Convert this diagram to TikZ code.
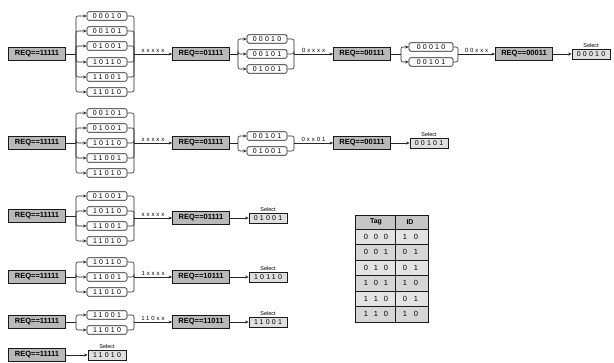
\documentclass[tikz,border=0pt]{standalone}
\usepackage{fontspec}
\setmainfont{Liberation Sans}
\newfontfamily\bitsfont[LetterSpace=32]{Liberation Sans}
\usetikzlibrary{arrows.meta}
\begin{document}
\begin{tikzpicture}[x=1pt,y=-1pt,
  ln/.style={line width=0.6pt,draw=black!85},
  arr/.style={ln,-{Stealth[length=3.5pt,width=3pt]}},
  req/.style={draw=black!90,line width=0.8pt,fill=gray!55,minimum width=57pt,minimum height=13pt,inner sep=0pt,font=\bfseries\fontsize{7.5}{8}\selectfont},
  sub/.style={draw=black!90,line width=0.7pt,rounded corners=1.5pt,fill=white,minimum width=40pt,minimum height=8.5pt,inner sep=0pt,font=\bitsfont\fontsize{7}{7}\selectfont},
  sel/.style={draw=black!90,line width=0.7pt,fill=gray!25,minimum width=38pt,minimum height=10pt,inner sep=0pt,font=\bitsfont\fontsize{7}{7}\selectfont},
  seltxt/.style={font=\fontsize{5.5}{6}\selectfont,inner sep=0.5pt,anchor=south},
  lab/.style={above,font=\bitsfont\fontsize{6}{7}\selectfont,inner sep=1.5pt},
  tcell/.style={font=\fontsize{7.5}{8}\selectfont,inner sep=0pt},
  bus/.style={arr,rounded corners=2pt},
  rbus/.style={ln,rounded corners=2pt}]
\useasboundingbox (0,0) rectangle (614,363);

% ---------------- Row 1 ----------------
\node[req] (r1a) at (37,54) {REQ==11111};
\node[sub] (r1s1) at (107,16) {00010};
\node[sub] (r1s2) at (107,31) {00101};
\node[sub] (r1s3) at (107,46) {01001};
\node[sub] (r1s4) at (107,62) {10110};
\node[sub] (r1s5) at (107,77) {11001};
\node[sub] (r1s6) at (107,92) {11010};
\coordinate (r1L) at (76,54);
\coordinate (r1R) at (134,54);
\node[req] (r1b) at (201,54) {REQ==01111};
\node[sub] (r1t1) at (267,39) {00010};
\node[sub] (r1t2) at (267,54) {00101};
\node[sub] (r1t3) at (267,69) {01001};
\coordinate (r1L2) at (238,54);
\coordinate (r1R2) at (294,54);
\node[req] (r1c) at (362,54) {REQ==00111};
\node[sub,minimum width=44pt] (r1u1) at (431,47) {00010};
\node[sub,minimum width=44pt] (r1u2) at (431,62) {00101};
\coordinate (r1L3) at (401,54);
\coordinate (r1R3) at (458,54);
\node[req] (r1d) at (524,54) {REQ==00011};
\node[sel] (r1sel) at (591,54) {00010};
\node[seltxt] (r1st) at (r1sel.north) {Select};

\draw[ln] (r1a.east) -- (r1L);
\foreach \n in {r1s1,r1s2,r1s3,r1s4,r1s5,r1s6} {
  \draw[bus] (r1L) |- (\n.west);
  \draw[rbus] (\n.east) -| (r1R);
}
\draw[arr] (r1R) -- node[lab] {xxxxx} (r1b.west);
\draw[ln] (r1b.east) -- (r1L2);
\foreach \n in {r1t1,r1t2,r1t3} {
  \draw[bus] (r1L2) |- (\n.west);
  \draw[rbus] (\n.east) -| (r1R2);
}
\draw[arr] (r1R2) -- node[lab] {0xxxx} (r1c.west);
\draw[ln] (r1c.east) -- (r1L3);
\foreach \n in {r1u1,r1u2} {
  \draw[bus] (r1L3) |- (\n.west);
  \draw[rbus] (\n.east) -| (r1R3);
}
\draw[arr] (r1R3) -- node[lab] {00xxx} (r1d.west);
\draw[arr] (r1d.east) -- (r1sel.west);

% ---------------- Row 2 ----------------
\node[req] (r2a) at (37,143) {REQ==11111};
\node[sub] (r2s1) at (107,113) {00101};
\node[sub] (r2s2) at (107,128) {01001};
\node[sub] (r2s3) at (107,143) {10110};
\node[sub] (r2s4) at (107,158) {11001};
\node[sub] (r2s5) at (107,173) {11010};
\coordinate (r2L) at (76,143);
\coordinate (r2R) at (134,143);
\node[req] (r2b) at (201,143) {REQ==01111};
\node[sub] (r2t1) at (267,136) {00101};
\node[sub] (r2t2) at (267,151) {01001};
\coordinate (r2L2) at (238,143);
\coordinate (r2R2) at (294,143);
\node[req] (r2c) at (362,143) {REQ==00111};
\node[sel] (r2sel) at (429,143) {00101};
\node[seltxt] (r2st) at (r2sel.north) {Select};

\draw[ln] (r2a.east) -- (r2L);
\foreach \n in {r2s1,r2s2,r2s3,r2s4,r2s5} {
  \draw[bus] (r2L) |- (\n.west);
  \draw[rbus] (\n.east) -| (r2R);
}
\draw[arr] (r2R) -- node[lab] {xxxxx} (r2b.west);
\draw[ln] (r2b.east) -- (r2L2);
\foreach \n in {r2t1,r2t2} {
  \draw[bus] (r2L2) |- (\n.west);
  \draw[rbus] (\n.east) -| (r2R2);
}
\draw[arr] (r2R2) -- node[lab] {0xx01} (r2c.west);
\draw[arr] (r2c.east) -- (r2sel.west);

% ---------------- Row 3 ----------------
\node[req] (r3a) at (37,216) {REQ==11111};
\node[sub] (r3s1) at (107,196) {01001};
\node[sub] (r3s2) at (107,211) {10110};
\node[sub] (r3s3) at (107,226) {11001};
\node[sub] (r3s4) at (107,241) {11010};
\coordinate (r3L) at (76,216);
\coordinate (r3R) at (134,218);
\node[req] (r3b) at (201,218) {REQ==01111};
\node[sel] (r3sel) at (268,218) {01001};
\node[seltxt] (r3st) at (r3sel.north) {Select};

\draw[ln] (r3a.east) -- (r3L);
\foreach \n in {r3s1,r3s2,r3s3,r3s4} {
  \draw[bus] (r3L) |- (\n.west);
  \draw[rbus] (\n.east) -| (r3R);
}
\draw[arr] (r3R) -- node[lab] {xxxxx} (r3b.west);
\draw[arr] (r3b.east) -- (r3sel.west);

% ---------------- Row 4 ----------------
\node[req] (r4a) at (37,277) {REQ==11111};
\node[sub] (r4s1) at (107,262) {10110};
\node[sub] (r4s2) at (107,277) {11001};
\node[sub] (r4s3) at (107,292) {11010};
\coordinate (r4L) at (76,277);
\coordinate (r4R) at (134,277);
\node[req] (r4b) at (201,277) {REQ==10111};
\node[sel] (r4sel) at (268,277) {10110};
\node[seltxt] (r4st) at (r4sel.north) {Select};

\draw[ln] (r4a.east) -- (r4L);
\foreach \n in {r4s1,r4s2,r4s3} {
  \draw[bus] (r4L) |- (\n.west);
  \draw[rbus] (\n.east) -| (r4R);
}
\draw[arr] (r4R) -- node[lab] {1xxxx} (r4b.west);
\draw[arr] (r4b.east) -- (r4sel.west);

% ---------------- Row 5 ----------------
\node[req] (r5a) at (37,322) {REQ==11111};
\node[sub] (r5s1) at (107,315) {11001};
\node[sub] (r5s2) at (107,330) {11010};
\coordinate (r5L) at (76,322);
\coordinate (r5R) at (134,322);
\node[req] (r5b) at (201,322) {REQ==11011};
\node[sel] (r5sel) at (268,322) {11001};
\node[seltxt] (r5st) at (r5sel.north) {Select};

\draw[ln] (r5a.east) -- (r5L);
\foreach \n in {r5s1,r5s2} {
  \draw[bus] (r5L) |- (\n.west);
  \draw[rbus] (\n.east) -| (r5R);
}
\draw[arr] (r5R) -- node[lab] {110xx} (r5b.west);
\draw[arr] (r5b.east) -- (r5sel.west);

% ---------------- Row 6 ----------------
\node[req] (r6a) at (37,355) {REQ==11111};
\node[sel] (r6sel) at (107,355) {11010};
\node[seltxt] (r6st) at (r6sel.north) {Select};
\draw[arr] (r6a.east) -- (r6sel.west);

% ---------------- Table ----------------
\fill[gray!45] (355,215) rectangle (428,229);
\foreach \i/\c in {0/22,1/32,2/22,3/32,4/22,5/32} {
  \fill[gray!\c] (355,{229+15.5*\i}) rectangle (428,{229+15.5*(\i+1)});
}
\draw[line width=0.8pt,black!90] (355,215) rectangle (428,322);
\foreach \i in {0,...,5} \draw[line width=0.7pt,black!90] (355,{229+15.5*\i}) -- (428,{229+15.5*\i});
\draw[line width=0.7pt,black!90] (395,215) -- (395,322);
\node[tcell,font=\bfseries\fontsize{7}{8}\selectfont] (th1) at (376,222) {Tag};
\node[tcell,font=\bfseries\fontsize{7}{8}\selectfont] (th2) at (410,222) {ID};
\foreach \i/\a/\b/\c/\d/\e in {0/0/0/0/1/0,1/0/0/1/0/1,2/0/1/0/0/1,3/1/0/1/1/0,4/1/1/0/0/1,5/1/1/0/1/0} {
  \node[tcell] (t\i a) at (366,{236.75+15.5*\i}) {\a};
  \node[tcell] (t\i b) at (376,{236.75+15.5*\i}) {\b};
  \node[tcell] (t\i c) at (386,{236.75+15.5*\i}) {\c};
  \node[tcell] (t\i d) at (405,{236.75+15.5*\i}) {\d};
  \node[tcell] (t\i e) at (416,{236.75+15.5*\i}) {\e};
}
\end{tikzpicture}
\end{document}
